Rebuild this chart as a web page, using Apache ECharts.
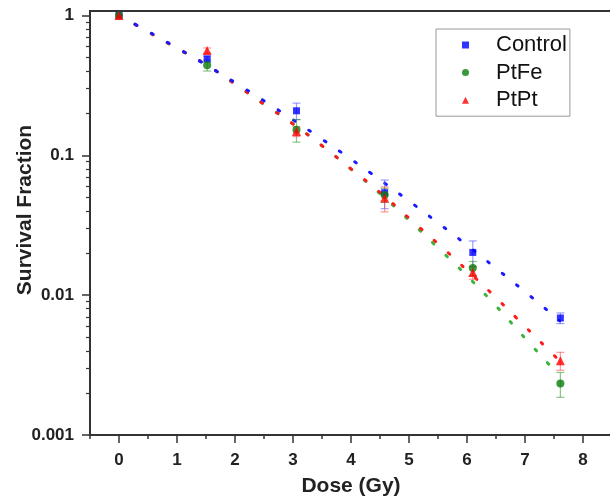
<!DOCTYPE html>
<html><head><meta charset="utf-8">
<script src="https://cdn.jsdelivr.net/npm/echarts@6/dist/echarts.min.js"></script>
<style>html,body{margin:0;padding:0;background:#fff}#c{width:610px;height:502px}</style>
</head><body><div id="c"></div>
<script>
// measured points
const doses = [0, 1.52, 3.06, 4.58, 6.1, 7.61];
const control = [1, 0.488, 0.208, 0.054, 0.0202, 0.00686];
const controlErr = [0, 0.025, 0.028, 0.0125, 0.0042, 0.0006];
const ptfe = [1, 0.44, 0.152, 0.052, 0.0156, 0.00233];
const ptfeErr = [0, 0.04, 0.028, 0.006, 0.0018, 0.00047];
const ptpt = [1, 0.562, 0.148, 0.0494, 0.0145, 0.0034];
const ptptErr = [0, 0.023, 0.012, 0.01, 0.0015, 0.0005];
// fitted curves
const fitDose = [0, 0.5, 1, 1.5, 2, 2.5, 3, 3.5, 4, 4.5, 5, 5.5, 6, 6.5, 7, 7.5, 7.6];
const fitControl = [1, 0.769, 0.586, 0.443, 0.331, 0.245, 0.1795, 0.1303, 0.0938, 0.0668, 0.0471, 0.0329, 0.02275, 0.01556, 0.01057, 0.0071, 0.00655];
const fitPtFe = [1, 0.762, 0.582, 0.445, 0.323, 0.2317, 0.1675, 0.117, 0.0794, 0.0531, 0.0343, 0.02178, 0.01374, 0.00836, 0.00492, 0.00292, 0.00263];
const fitPtPt = [1, 0.762, 0.582, 0.445, 0.323, 0.2317, 0.1675, 0.117, 0.080, 0.0543, 0.0355, 0.02333, 0.01507, 0.00959, 0.00597, 0.003715, 0.00337];
// axes
const xMajor = [0, 1, 2, 3, 4, 5, 6, 7, 8];
const xMinor = [-0.5, 0.5, 1.5, 2.5, 3.5, 4.5, 5.5, 6.5, 7.5];
const yMajor = [0.001, 0.01, 0.1, 1];
const yTickLabels = ['0.001', '0.01', '0.1', '1'];
const yMinor = [0.002,0.003,0.004,0.005,0.006,0.007,0.008,0.009,0.02,0.03,0.04,0.05,0.06,0.07,0.08,0.09,0.2,0.3,0.4,0.5,0.6,0.7,0.8,0.9];

const FONT = 'Liberation Sans, Arial, sans-serif';
const pairs = (xs, ys) => xs.map((x, i) => [x, ys[i]]);
const triples = (xs, ys, es) => xs.map((x, i) => [x, ys[i], es[i]]);

function errBar(color) {
  return function (params, api) {
    const x = api.value(0), y = api.value(1), e = api.value(2);
    if (!e) return null;
    const t = api.coord([x, y + e]);
    const b = api.coord([x, y - e]);
    const w = 4;
    const st = { stroke: color, lineWidth: 1.2 };
    return { type: 'group', children: [
      { type: 'line', shape: { x1: t[0], y1: t[1], x2: b[0], y2: b[1] }, style: st },
      { type: 'line', shape: { x1: t[0] - w, y1: t[1], x2: t[0] + w, y2: t[1] }, style: st },
      { type: 'line', shape: { x1: b[0] - w, y1: b[1], x2: b[0] + w, y2: b[1] }, style: st }
    ]};
  };
}
const dotted = (color) => ({ color: color, width: 3, type: [2, 16.5], cap: 'round' });

const chart = echarts.init(document.getElementById('c'), null, { renderer: 'canvas' });
chart.setOption({
  animation: false,
  backgroundColor: '#fff',
  grid: { left: 90, top: 11, width: 522, height: 424, show: true, borderColor: '#333', borderWidth: 2, outerBoundsMode: 'none', containLabel: false },
  legend: {
    data: [{ name: 'Control', icon: 'rect' }, { name: 'PtFe', icon: 'circle' }, { name: 'PtPt', icon: 'triangle' }],
    orient: 'vertical', left: 436, top: 29,
    padding: [4, 3, 4, 26], itemWidth: 7, itemHeight: 7, itemGap: 3.6,
    borderColor: '#999', borderWidth: 1, backgroundColor: '#fff',
    textStyle: { fontSize: 22, lineHeight: 24, color: '#111', fontFamily: FONT, padding: [0, 0, 0, 22] }
  },
  xAxis: [{
    type: 'value', min: -0.5, max: 8.5,
    axisLine: { show: true, onZero: false, lineStyle: { color: '#333', width: 2 } },
    axisTick: { show: true, customValues: xMajor, length: 8, lineStyle: { color: '#333', width: 1.5 } },
    axisLabel: { customValues: xMajor, fontSize: 17, fontWeight: 'bold', color: '#222', margin: 17, fontFamily: FONT },
    splitLine: { show: false },
    name: 'Dose (Gy)', nameLocation: 'middle', nameGap: 41, nameMoveOverlap: false,
    nameTextStyle: { fontSize: 21, fontWeight: 'bold', color: '#222', fontFamily: FONT }
  }, {
    type: 'value', min: -0.5, max: 8.5, position: 'bottom',
    axisLine: { show: false, onZero: false },
    axisTick: { show: true, customValues: xMinor, length: 4, lineStyle: { color: '#333', width: 1.5 } },
    axisLabel: { show: false }, splitLine: { show: false }
  }],
  yAxis: [{
    type: 'log', logBase: 10, min: 0.001, max: 1.075,
    axisLine: { show: true, onZero: false, lineStyle: { color: '#333', width: 2 } },
    axisTick: { show: true, customValues: yMajor, length: 8, lineStyle: { color: '#333', width: 1.5 } },
    axisLabel: {
      customValues: yMajor, fontSize: 17, fontWeight: 'bold', color: '#222', margin: 16, fontFamily: FONT,
      formatter: function (v) {
        for (let i = 0; i < yMajor.length; i++) if (Math.abs(Math.log10(v) - Math.log10(yMajor[i])) < 1e-6) return yTickLabels[i];
        return '';
      }
    },
    splitLine: { show: false }, minorTick: { show: false },
    name: 'Survival Fraction', nameLocation: 'middle', nameGap: 54, nameMoveOverlap: false,
    nameTextStyle: { fontSize: 21, fontWeight: 'bold', color: '#222', fontFamily: FONT, padding: [0, 0, 0, 26] }
  }, {
    type: 'log', logBase: 10, min: 0.001, max: 1.075, position: 'left',
    axisLine: { show: false, onZero: false },
    axisTick: { show: true, customValues: yMinor, length: 4, lineStyle: { color: '#333', width: 1.2 } },
    axisLabel: { show: false }, splitLine: { show: false }
  }],
  series: [
    { name: 'PtFe fit', type: 'line', data: pairs(fitDose, fitPtFe), smooth: true, showSymbol: false, symbol: 'none', lineStyle: dotted('#3cb43c'), z: 2 },
    { name: 'PtPt fit', type: 'line', data: pairs(fitDose, fitPtPt), smooth: true, showSymbol: false, symbol: 'none', lineStyle: dotted('#ff1a1a'), z: 2 },
    { name: 'Control fit', type: 'line', data: pairs(fitDose, fitControl), smooth: true, showSymbol: false, symbol: 'none', lineStyle: dotted('#1a1aff'), z: 2 },
    { name: 'Control err', type: 'custom', data: triples(doses, control, controlErr), renderItem: errBar('rgba(90,90,255,0.6)'), z: 3 },
    { name: 'PtFe err', type: 'custom', data: triples(doses, ptfe, ptfeErr), renderItem: errBar('rgba(40,150,40,0.55)'), z: 3 },
    { name: 'PtPt err', type: 'custom', data: triples(doses, ptpt, ptptErr), renderItem: errBar('rgba(255,80,80,0.6)'), z: 3 },
    { name: 'Control', type: 'scatter', data: pairs(doses, control), symbol: 'rect', symbolSize: 7, itemStyle: { color: '#0000ff' }, z: 4 },
    { name: 'PtFe', type: 'scatter', data: pairs(doses, ptfe), symbol: 'circle', symbolSize: 8, itemStyle: { color: '#0a7d0a' }, z: 4 },
    { name: 'PtPt', type: 'scatter', data: pairs(doses, ptpt), symbol: 'triangle', symbolSize: 9, itemStyle: { color: '#ff0000' }, z: 4 }
  ]
});
</script>
</body></html>
